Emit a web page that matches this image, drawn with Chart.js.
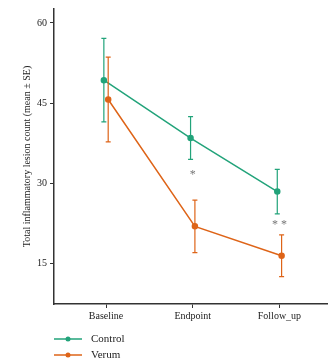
<!DOCTYPE html>
<html>
<head>
<meta charset="utf-8">
<script src="https://cdn.jsdelivr.net/npm/chart.js@4"></script>
<style>
  body { margin: 0; background: #fff; }
</style>
</head>
<body>
<canvas id="myChart" width="328" height="361"></canvas>
<script>
// chart values
const categories = ['Baseline', 'Endpoint', 'Follow_up'];
const controlMean = [49.3, 38.5, 28.5];
const controlSE = [7.8, 4.0, 4.15];
const verumMean = [45.7, 22.0, 16.5];
const verumSE = [7.9, 4.9, 3.9];
const yTicks = [15, 30, 45, 60];
// significance marks above each timepoint
const sigLabels = ['', '*', '* *'];
const sigY = [null, 31.9, 22.5];

const green = '#22A37A';
const orange = '#DE6418';
const serif = "'Liberation Serif', 'DejaVu Serif', serif";
const dodge = 0.025;

// error bars + significance stars
const errorBars = {
  id: 'errorBars',
  afterDatasetsDraw(chart) {
    const c = chart.ctx;
    const x = chart.scales.x, y = chart.scales.y;
    chart.data.datasets.forEach(ds => {
      c.save();
      c.strokeStyle = ds.borderColor;
      c.lineWidth = 1.2;
      ds.data.forEach((p, i) => {
        const px = x.getPixelForValue(p.x);
        const top = y.getPixelForValue(p.y + ds.se[i]);
        const bot = y.getPixelForValue(p.y - ds.se[i]);
        c.beginPath();
        c.moveTo(px, top); c.lineTo(px, bot);
        c.moveTo(px - 2.5, top); c.lineTo(px + 2.5, top);
        c.moveTo(px - 2.5, bot); c.lineTo(px + 2.5, bot);
        c.stroke();
      });
      c.restore();
    });
    c.save();
    c.fillStyle = '#777';
    c.font = '12px ' + serif;
    c.textAlign = 'center';
    c.textBaseline = 'middle';
    sigLabels.forEach((s, i) => {
      if (!s) return;
      c.fillText(s, x.getPixelForValue(i), y.getPixelForValue(sigY[i]) + 1);
    });
    c.restore();
  }
};

// legend drawn below the x axis, one row per series
const bottomLegend = {
  id: 'bottomLegend',
  afterDraw(chart) {
    const c = chart.ctx;
    const rows = [339, 355];
    chart.data.datasets.forEach((ds, i) => {
      const yy = rows[i];
      c.save();
      c.strokeStyle = ds.borderColor;
      c.fillStyle = ds.borderColor;
      c.lineWidth = 1.5;
      c.beginPath();
      c.moveTo(54, yy); c.lineTo(82, yy);
      c.stroke();
      c.beginPath();
      c.arc(68, yy, 2.5, 0, Math.PI * 2);
      c.fill();
      c.fillStyle = '#222';
      c.font = '11px ' + serif;
      c.textBaseline = 'middle';
      c.fillText(ds.label, 91, yy);
      c.restore();
    });
  }
};

const ctx = document.getElementById('myChart');

new Chart(ctx, {
  type: 'line',
  data: {
    datasets: [
      {
        label: 'Control',
        data: controlMean.map((v, i) => ({ x: i - dodge, y: v })),
        se: controlSE,
        borderColor: green,
        backgroundColor: green,
        borderWidth: 1.5,
        pointRadius: 2.5,
        pointHoverRadius: 2.5
      },
      {
        label: 'Verum',
        data: verumMean.map((v, i) => ({ x: i + dodge, y: v })),
        se: verumSE,
        borderColor: orange,
        backgroundColor: orange,
        borderWidth: 1.5,
        pointRadius: 2.5,
        pointHoverRadius: 2.5
      }
    ]
  },
  options: {
    responsive: false,
    animation: false,
    layout: { autoPadding: false, padding: { top: 5, right: 0, left: 0, bottom: 0 } },
    plugins: {
      legend: { display: false },
      tooltip: { enabled: false }
    },
    scales: {
      x: {
        type: 'linear',
        min: -0.6,
        max: 2.56,
        afterBuildTicks: axis => { axis.ticks = [0, 1, 2].map(v => ({ value: v })); },
        afterFit: axis => { axis.height = 57; },
        grid: { display: true, drawOnChartArea: false, tickLength: 4, color: '#333' },
        border: { display: true, color: '#333', width: 1.5 },
        ticks: {
          padding: 2,
          color: '#222',
          font: { family: serif, size: 10 },
          callback: v => categories[v]
        }
      },
      y: {
        min: 7.5,
        max: 62.6,
        afterBuildTicks: axis => { axis.ticks = yTicks.map(v => ({ value: v })); },
        afterFit: axis => { axis.width = 54; },
        grid: { display: true, drawOnChartArea: false, tickLength: 4, color: '#333' },
        border: { display: true, color: '#333', width: 1.5 },
        ticks: {
          padding: 3,
          color: '#222',
          font: { family: serif, size: 10 }
        },
        title: {
          display: true,
          text: 'Total inflammatory lesion count (mean ± SE)',
          color: '#222',
          font: { family: serif, size: 10 },
          padding: { top: 21, bottom: 0 }
        }
      }
    }
  },
  plugins: [errorBars, bottomLegend]
});
</script>
</body>
</html>
